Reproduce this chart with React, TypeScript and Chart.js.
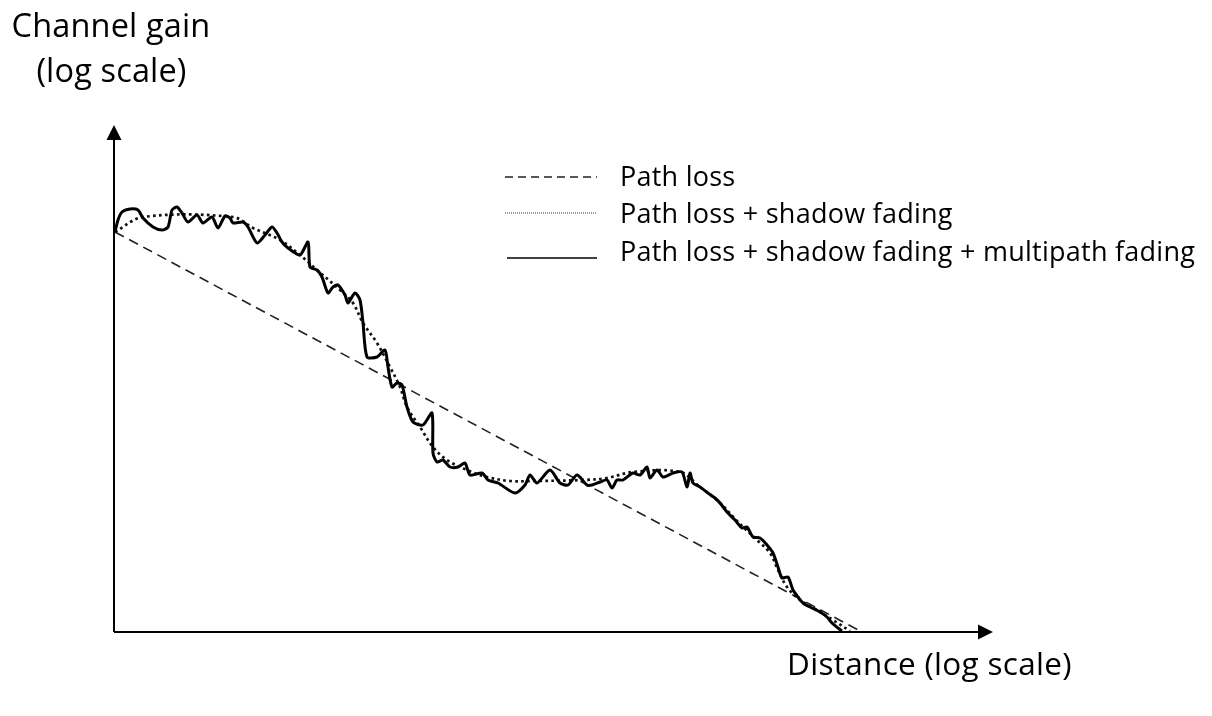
import React, { useEffect, useRef } from "react";
import { Chart, registerables } from "chart.js";

Chart.register(...registerables);

// Arbitrary units: distance (log) 0..878, gain (log) 0..506
const X_MAX = 878;
const Y_MAX = 506;

const pathLossX = [0, 745];
const pathLossY = [399, 0];

const shadowX = [0, 28, 118, 138, 165, 185, 202, 225, 238, 248, 262, 275, 285, 292, 305, 318, 332, 352, 372, 395, 418, 468, 492, 518, 565, 585, 605, 622, 642, 655, 663, 672, 685, 702, 718, 735];
const shadowY = [399, 414, 414, 403, 391, 376, 361, 341, 328, 308, 288, 264, 244, 224, 204, 184, 171, 161, 154, 150, 150, 151, 153, 159, 159, 144, 128, 110, 91, 78, 61, 44, 31, 21, 11, 0];

const multiX = [0, 3, 7, 15, 23, 28, 38, 47, 53, 57, 62, 67, 73, 82, 88, 97, 103, 110, 115, 118, 128, 133, 142, 150, 157, 162, 167, 173, 185, 193, 195, 202, 207, 213, 218, 223, 230, 233, 240, 245, 248, 252, 262, 270, 273, 277, 282, 287, 292, 298, 308, 317, 318, 322, 328, 335, 343, 350, 355, 367, 373, 383, 400, 410, 415, 422, 435, 445, 453, 462, 472, 477, 485, 492, 497, 502, 508, 518, 525, 532, 535, 542, 548, 558, 567, 572, 575, 578, 585, 593, 600, 605, 612, 620, 627, 632, 638, 645, 652, 658, 663, 667, 673, 678, 683, 688, 695, 705, 712, 717, 723, 727];
const multiY = [399, 411, 419, 422, 421, 413, 404, 401, 404, 421, 424, 418, 409, 416, 408, 414, 403, 415, 413, 408, 409, 404, 388, 396, 404, 398, 389, 383, 376, 389, 364, 361, 354, 338, 344, 346, 336, 328, 338, 331, 308, 274, 274, 281, 264, 244, 248, 246, 224, 209, 206, 218, 178, 169, 171, 164, 164, 168, 156, 158, 151, 148, 138, 146, 156, 148, 161, 148, 146, 156, 146, 146, 149, 151, 143, 151, 151, 158, 156, 164, 153, 161, 154, 158, 159, 144, 158, 148, 144, 138, 133, 128, 119, 111, 103, 104, 94, 93, 86, 78, 64, 53, 54, 41, 34, 28, 24, 19, 14, 8, 3, 0];

const legendLabels = [
  "Path loss",
  "Path loss + shadow fading",
  "Path loss + shadow fading + multipath fading",
];

const toPts = (xs: number[], ys: number[]) => xs.map((x, i) => ({ x, y: ys[i] }));

const FONT = "'Open Sans', sans-serif";

const axesPlugin = {
  id: "axesArrows",
  afterDraw(chart: any) {
    const ctx = chart.ctx;
    const xs = chart.scales.x;
    const ys = chart.scales.y;
    const ox = xs.getPixelForValue(0) - 1;
    const oy = ys.getPixelForValue(0) + 1;
    const xEnd = xs.getPixelForValue(X_MAX);
    const yEnd = ys.getPixelForValue(Y_MAX);
    ctx.save();
    ctx.strokeStyle = "#000";
    ctx.fillStyle = "#000";
    ctx.lineWidth = 2;
    ctx.setLineDash([]);
    ctx.beginPath();
    ctx.moveTo(ox, oy);
    ctx.lineTo(ox, yEnd + 12);
    ctx.moveTo(ox, oy);
    ctx.lineTo(xEnd - 12, oy);
    ctx.stroke();
    ctx.beginPath();
    ctx.moveTo(ox, yEnd);
    ctx.lineTo(ox - 7.5, yEnd + 15);
    ctx.lineTo(ox + 7.5, yEnd + 15);
    ctx.closePath();
    ctx.fill();
    ctx.beginPath();
    ctx.moveTo(xEnd, oy);
    ctx.lineTo(xEnd - 15, oy - 7.5);
    ctx.lineTo(xEnd - 15, oy + 7.5);
    ctx.closePath();
    ctx.fill();

    // legend line samples
    const samples = [
      { y: 177, dash: [8, 5], w: 1.3, x0: 505, color: "#222" },
      { y: 213, dash: [1, 1], w: 1, x0: 505, color: "#333" },
      { y: 258, dash: [], w: 1.6, x0: 507, color: "#000" },
    ];
    samples.forEach((s) => {
      ctx.beginPath();
      ctx.strokeStyle = s.color;
      ctx.lineWidth = s.w;
      ctx.setLineDash(s.dash);
      ctx.moveTo(s.x0, s.y);
      ctx.lineTo(597, s.y);
      ctx.stroke();
    });
    ctx.restore();
  },
};

export default function App() {
  const ref = useRef<HTMLCanvasElement>(null);
  useEffect(() => {
    if (!ref.current) return;
    const chart = new Chart(ref.current, {
      type: "line",
      data: {
        datasets: [
          {
            label: legendLabels[2],
            data: toPts(multiX, multiY),
            borderColor: "#000",
            borderWidth: 3,
            pointRadius: 0,
            tension: 0.25,
            fill: false,
          },
          {
            label: legendLabels[1],
            data: toPts(shadowX, shadowY),
            borderColor: "#111",
            borderWidth: 2.7,
            borderDash: [2.7, 3.3],
            pointRadius: 0,
            tension: 0.35,
            fill: false,
          },
          {
            label: legendLabels[0],
            data: toPts(pathLossX, pathLossY),
            borderColor: "#222",
            borderWidth: 1.6,
            borderDash: [10, 6],
            pointRadius: 0,
            tension: 0,
            fill: false,
          },
        ],
      },
      options: {
        animation: false,
        responsive: false,
        maintainAspectRatio: false,
        parsing: true,
        layout: { padding: { left: 115, top: 125, right: 1212 - 993, bottom: 716 - 631 } },
        plugins: { legend: { display: false }, tooltip: { enabled: false }, title: { display: false } },
        scales: {
          x: { type: "linear", min: 0, max: X_MAX, display: false },
          y: { type: "linear", min: 0, max: Y_MAX, display: false },
        },
      },
      plugins: [axesPlugin],
    });
    return () => chart.destroy();
  }, []);

  const txt = (extra: React.CSSProperties): React.CSSProperties => ({
    position: "absolute",
    fontFamily: FONT,
    lineHeight: 1,
    whiteSpace: "nowrap",
    color: "#000",
    ...extra,
  });

  return (
    <div style={{ position: "fixed", left: 0, top: 0, width: 1212, height: 716, background: "#fff" }}>
      <canvas ref={ref} width={1212} height={716} style={{ position: "absolute", left: 0, top: 0, width: 1212, height: 716 }} />
      <div style={txt({ left: 0, width: 222, textAlign: "center", top: 9, fontSize: 32.5, letterSpacing: 0.15 })}>Channel gain</div>
      <div style={txt({ left: 0, width: 223, textAlign: "center", top: 54, fontSize: 32.5, letterSpacing: 0.15 })}>(log scale)</div>
      <div style={txt({ left: 787, top: 647, fontSize: 31.5, letterSpacing: 0.3 })}>Distance (log scale)</div>
      <div style={txt({ left: 620, top: 161.5, fontSize: 27, letterSpacing: 0.25 })}>{legendLabels[0]}</div>
      <div style={txt({ left: 620, top: 198.5, fontSize: 27, letterSpacing: 0.25 })}>{legendLabels[1]}</div>
      <div style={txt({ left: 620, top: 236.5, fontSize: 27, letterSpacing: 0.25 })}>{legendLabels[2]}</div>
    </div>
  );
}
